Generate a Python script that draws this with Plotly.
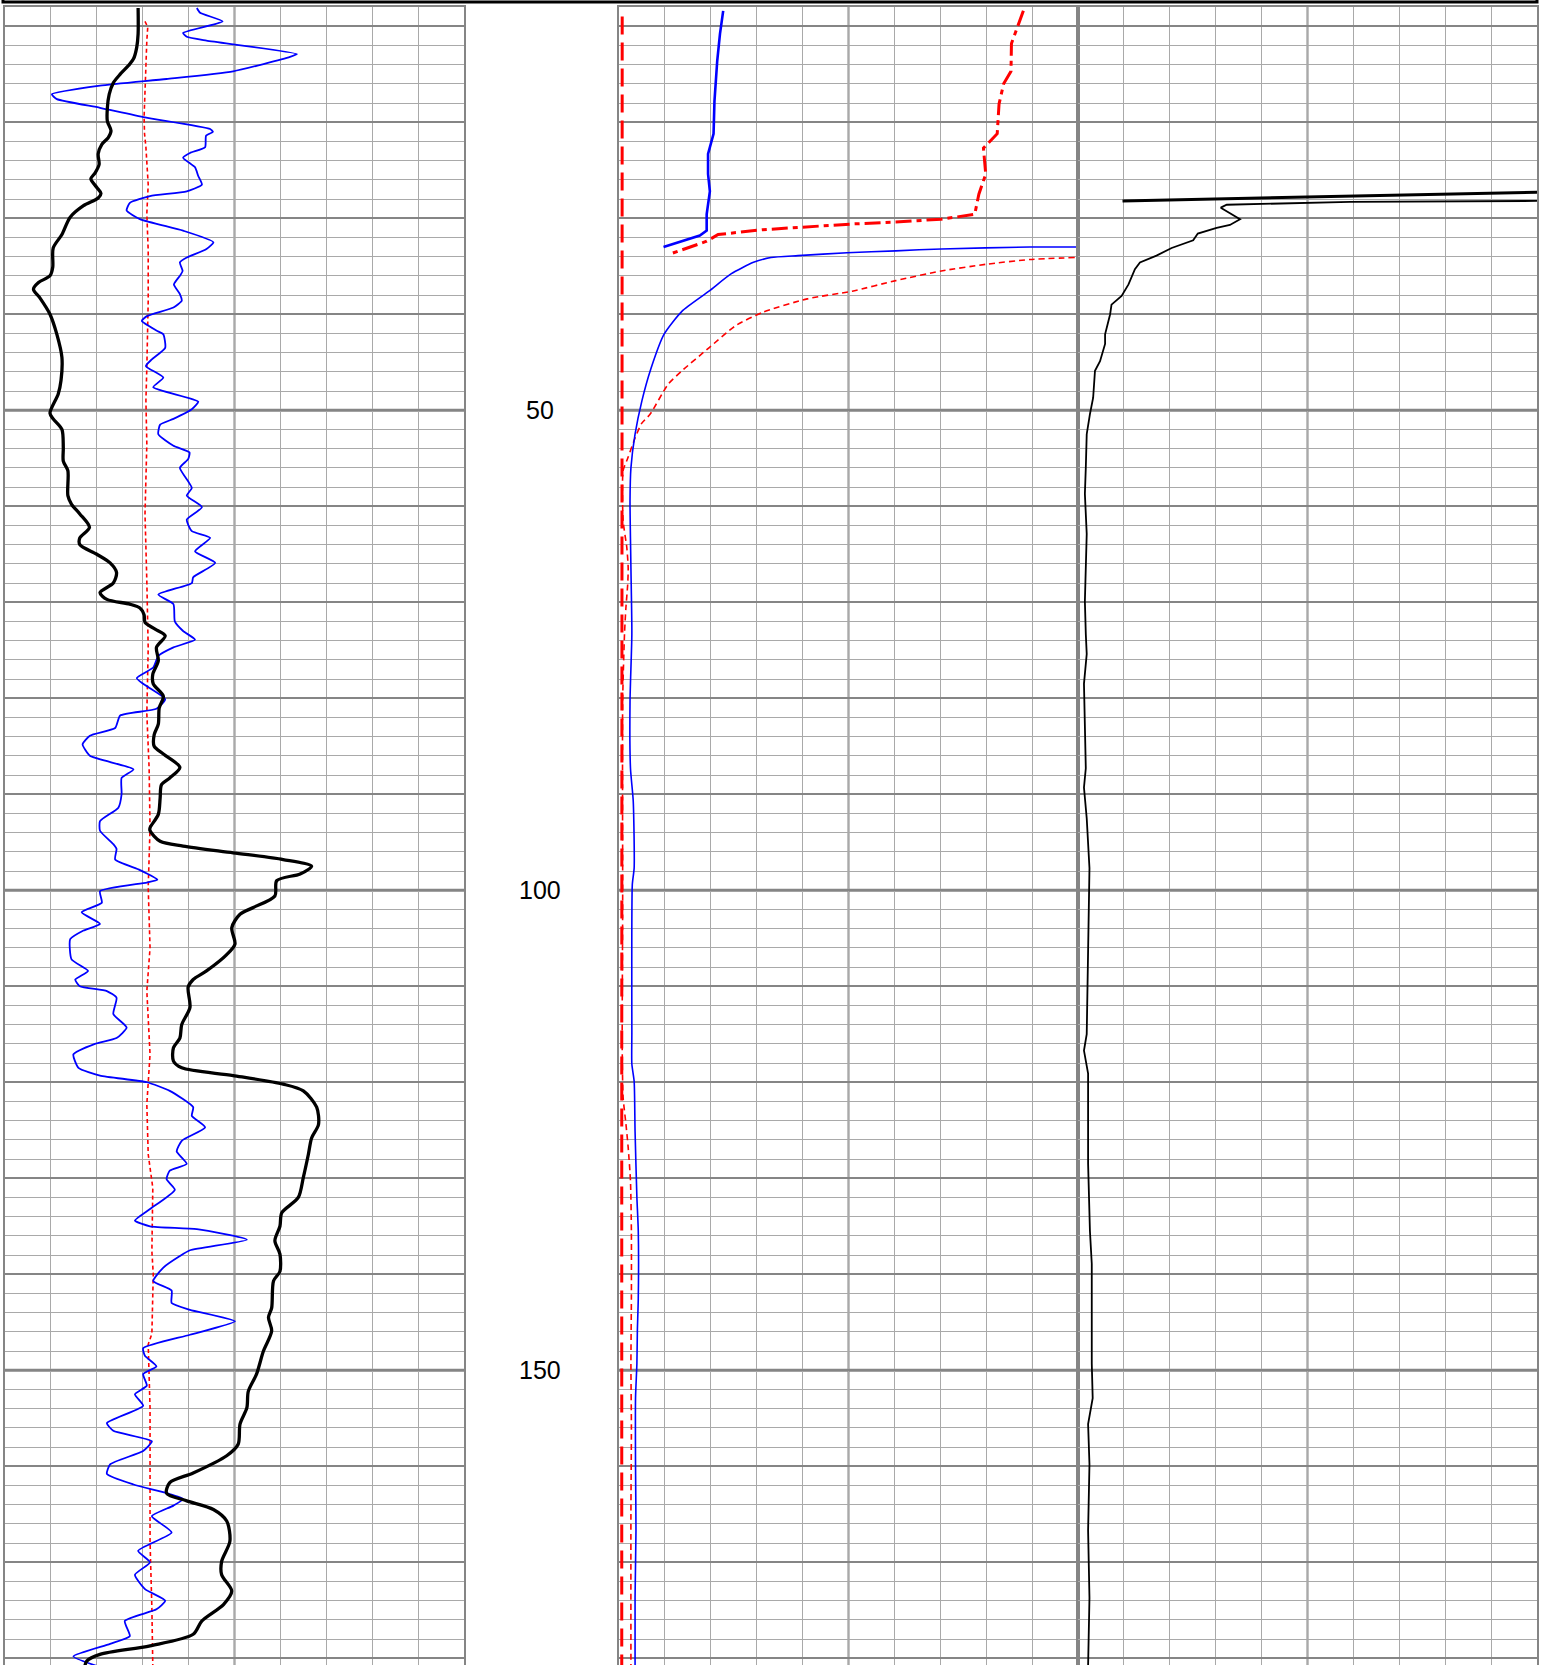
import plotly.graph_objects as go

# ---------------- data (depth, value 0-100 per track) ----------------
T1_BLACK_DEPTH = [8.1, 10.8, 12.2, 13.4, 14.1, 15.0, 15.9, 17.1, 18.5, 19.9, 20.9, 21.6, 22.3, 23.3, 24.4, 25.3, 25.9, 26.8, 27.4, 27.9,
                  28.7, 29.9, 31.7, 33.1, 35.1, 36.0, 36.7, 37.4, 38.3, 40.0, 42.1, 44.5, 46.9, 48.3, 50.3, 50.9, 52.0, 53.9, 55.3, 56.3,
                  58.9, 59.8, 60.8, 62.2, 63.3, 64.0, 65.0, 65.9, 66.9, 68.0, 69.0, 69.7, 70.2, 70.6, 71.3, 72.1, 72.8, 73.5, 74.7, 76.1,
                  77.5, 78.5, 79.8, 81.0, 82.7, 83.8, 85.0, 85.8, 87.2, 88.3, 89.0, 90.4, 92.1, 93.5, 93.8, 94.9, 95.4, 96.1, 96.8, 97.5,
                  98.3, 99.0, 100.6, 101.8, 102.5, 103.9, 105.6, 106.7, 108.4, 109.3, 110.1, 112.2, 114.0, 115.4, 116.4, 117.8, 118.5, 119.3, 120.2, 120.9,
                  122.6, 124.4, 125.8, 127.5, 129.9, 132.0, 133.6, 135.0, 136.5, 137.9, 139.7, 140.7, 143.5, 144.5, 145.9, 148.0, 150.4, 152.2, 153.9, 155.6,
                  157.7, 158.9, 160.7, 161.7, 162.8, 163.6, 164.5, 165.7, 167.8, 169.9, 171.3, 173.0, 174.4, 176.1, 177.5, 178.7, 179.6, 180.3, 180.8]
T1_BLACK_VAL = [29.0, 29.0, 28.7, 28.0, 26.9, 25.1, 23.6, 22.7, 22.3, 22.3, 23.1, 22.5, 21.1, 20.3, 20.5, 19.6, 18.7, 20.0, 20.9, 20.3,
                17.1, 14.2, 12.4, 10.5, 10.4, 9.8, 7.3, 6.2, 7.6, 9.8, 11.3, 12.4, 12.2, 11.6, 9.8, 10.5, 12.4, 12.7, 12.7, 13.7,
                13.7, 14.5, 16.3, 18.4, 16.3, 16.3, 20.0, 22.9, 24.3, 23.6, 20.7, 22.2, 27.2, 29.4, 30.3, 30.5, 32.7, 34.9, 33.0, 33.4,
                32.2, 32.3, 34.5, 33.6, 33.4, 32.5, 32.5, 34.5, 38.1, 35.9, 34.1, 33.8, 33.4, 31.6, 31.6, 33.8, 38.8, 49.7, 60.6, 66.8,
                64.3, 59.2, 58.8, 54.1, 51.2, 49.4, 50.1, 48.3, 43.9, 41.0, 39.9, 40.3, 38.5, 38.1, 36.7, 36.7, 38.5, 49.7, 60.6, 65.0,
                67.9, 68.3, 66.8, 66.1, 65.0, 63.9, 60.3, 59.9, 58.8, 59.9, 59.9, 58.5, 58.1, 57.4, 58.1, 56.3, 54.8, 53.0, 52.7, 51.2,
                50.8, 48.3, 41.0, 35.9, 35.2, 39.6, 45.4, 48.3, 49.0, 47.2, 47.2, 49.4, 47.6, 42.9, 41.0, 31.6, 20.7, 17.8, 17.4]

T1_BLUE_DEPTH = [8.1, 8.6, 9.5, 10.7, 11.1, 11.5, 12.9, 13.2, 14.7, 15.5, 16.2, 17.1, 17.6, 18.5, 19.5, 20.7, 21.0, 21.4, 22.6, 23.2,
                 23.7, 24.7, 25.6, 26.5, 27.2, 27.7, 28.4, 29.2, 30.1, 31.3, 32.5, 33.2, 34.1, 34.6, 35.5, 36.0, 36.9, 37.9, 38.6, 39.3,
                 40.2, 40.7, 41.7, 42.1, 43.5, 44.7, 45.4, 46.6, 47.6, 49.1, 49.9, 50.9, 51.5, 52.5, 53.7, 54.4, 55.1, 56.0, 57.4, 58.1,
                 58.9, 60.1, 61.4, 62.6, 63.3, 64.7, 65.9, 67.4, 68.0, 69.2, 70.2, 72.0, 73.0, 73.9, 74.7, 75.6, 76.8, 77.9, 78.5, 80.1,
                 81.1, 81.8, 83.1, 83.9, 84.8, 86.0, 87.4, 88.3, 90.0, 91.4, 92.8, 93.8, 95.2, 95.7, 96.8, 97.9, 98.9, 99.2, 100.1, 101.3,
                 102.3, 103.5, 104.2, 105.1, 107.2, 108.4, 109.3, 110.0, 110.5, 111.2, 112.9, 114.3, 115.4, 116.0, 117.1, 118.5, 119.3, 120.0, 120.9, 122.6,
                 123.5, 124.7, 126.1, 127.2, 128.5, 129.2, 130.1, 131.2, 133.2, 134.4, 135.0, 135.3, 136.4, 137.5, 138.1, 139.3, 140.7, 141.7, 143.0, 143.7,
                 144.9, 146.3, 147.7, 148.5, 149.6, 150.4, 151.6, 152.5, 153.7, 155.5, 156.3, 157.4, 158.4, 159.8, 160.8, 161.9, 162.8, 163.4, 164.1, 165.2,
                 166.9, 168.8, 170.0, 171.3, 172.8, 174.0, 174.9, 176.1, 177.7, 178.5, 179.8, 180.8]
T1_BLUE_VAL = [41.8, 42.5, 47.4, 38.8, 39.6, 43.9, 63.6, 62.1, 49.7, 35.2, 20.7, 10.2, 11.3, 20.7, 30.5, 44.7, 45.3, 43.8, 43.6, 40.3,
               38.8, 41.4, 42.1, 42.9, 39.6, 31.6, 27.2, 26.5, 29.4, 38.8, 45.4, 43.9, 39.6, 38.1, 38.7, 38.1, 36.8, 38.1, 38.5, 36.7,
               30.9, 29.8, 33.0, 34.5, 34.9, 32.0, 30.7, 34.5, 32.3, 42.1, 40.7, 36.7, 33.8, 33.4, 36.7, 40.2, 39.9, 38.1, 39.9, 40.7,
               39.6, 42.9, 39.6, 40.7, 44.7, 41.4, 45.8, 41.0, 40.7, 33.4, 36.7, 37.0, 38.8, 41.4, 36.7, 33.4, 32.3, 28.7, 30.1, 34.9,
               33.0, 25.1, 24.0, 18.5, 16.9, 18.5, 28.0, 25.4, 25.4, 24.7, 20.7, 20.7, 23.6, 24.3, 24.0, 29.4, 33.2, 30.9, 20.7, 21.1,
               16.7, 20.7, 17.1, 14.2, 14.5, 18.1, 15.3, 16.3, 22.2, 24.3, 23.6, 26.5, 24.3, 19.6, 14.9, 16.0, 20.7, 30.9, 35.9, 41.0,
               40.7, 43.6, 38.5, 37.4, 39.6, 35.9, 35.2, 37.0, 31.6, 28.3, 31.6, 41.8, 52.7, 40.3, 38.1, 34.5, 32.3, 36.3, 36.3, 40.3,
               50.1, 40.3, 30.1, 30.5, 33.0, 30.1, 30.9, 28.3, 30.1, 22.2, 23.6, 32.0, 30.1, 22.9, 22.2, 28.0, 35.2, 38.8, 36.7, 32.0,
               36.3, 29.0, 31.6, 28.3, 30.5, 34.9, 33.0, 26.1, 27.2, 22.9, 14.9, 20.0]

T1_RED_DEPTH = [9.5, 10.1, 11.5, 19.5, 21.2, 22.6, 26.5, 29.5, 33.4, 38.6, 45.6, 49.0, 53.5, 60.8, 67.8, 74.8, 81.6, 87.3,
                93.5, 99.7, 106.0, 110.5, 117.1, 122.3, 127.5, 131.0, 137.6, 140.0, 146.2, 147.3, 153.9, 160.8, 167.8, 174.8, 180.8]
T1_RED_VAL = [30.5, 31.1, 30.9, 30.3, 30.4, 30.7, 31.2, 30.9, 31.2, 31.2, 30.9, 30.7, 30.9, 30.5, 30.9, 31.2, 30.9, 31.4,
              31.6, 31.2, 31.6, 30.9, 31.6, 30.9, 31.2, 32.2, 32.0, 32.3, 32.0, 31.2, 31.6, 31.6, 31.6, 32.0, 32.2]

T2_REDBASE_DEPTH = [9.0, 60.0, 120.0, 180.8]
T2_REDBASE_VAL = [0.7, 0.6, 0.6, 0.6]

T2_REDDD_DEPTH = [8.4, 11.8, 14.7, 16.0, 18.1, 21.2, 22.7, 25.4, 27.5, 29.6, 30.1, 30.4, 30.6, 30.9, 31.2, 31.7, 32.4, 33.7]
T2_REDDD_VAL = [88.1, 85.5, 85.4, 83.8, 82.8, 82.4, 79.4, 79.9, 78.4, 77.5, 70.2, 60.3, 50.8, 41.0, 31.3, 21.6, 19.1, 11.3]

T2_BLUEK_DEPTH = [8.4, 10.8, 13.6, 17.8, 21.2, 23.3, 25.4, 27.2, 29.6, 31.3, 31.8, 33.0]
T2_BLUEK_VAL = [22.7, 22.0, 21.4, 20.8, 20.6, 19.4, 19.4, 19.8, 19.1, 19.1, 17.6, 9.7]

T2_BLUE_DEPTH = [33.0, 33.0, 33.2, 33.4, 33.6, 33.9, 34.1, 34.6, 35.8, 37.6, 39.7, 42.1, 45.6, 49.0, 52.5, 56.0, 59.4, 66.4, 73.3,
                 80.3, 87.3, 90.7, 97.7, 99.4, 115.0, 118.1, 119.9, 125.1, 132.0, 135.5, 142.5, 145.9, 149.3, 152.9, 159.8, 166.7, 173.7, 180.8]
T2_BLUE_VAL = [100.0, 89.5, 70.2, 60.3, 49.7, 39.0, 33.1, 29.3, 24.4, 19.6, 13.7, 9.8, 7.0, 5.0, 3.5, 2.6, 2.4, 2.6, 2.8,
               2.4, 2.5, 3.1, 3.3, 2.9, 2.8, 2.8, 3.3, 3.5, 3.9, 4.2, 4.2, 4.0, 3.9, 3.6, 3.6, 3.7, 3.5, 3.5]

T2_REDTHIN_DEPTH = [34.1, 34.3, 34.8, 35.5, 36.5, 37.6, 38.4, 39.8, 41.2, 43.5, 45.9, 47.3, 50.4, 51.4, 52.9, 55.0, 56.3, 61.5,
                    64.3, 66.4, 68.1, 70.6, 73.3, 80.3, 101.1, 116.4, 121.6, 124.3, 126.8, 130.3, 135.5, 142.5, 149.3, 156.0, 165.0, 180.8]
T2_REDTHIN_VAL = [99.3, 89.5, 80.0, 70.2, 60.3, 50.8, 41.0, 31.3, 25.4, 19.6, 13.7, 10.7, 6.8, 4.9, 3.5, 1.9, 0.9, 0.9,
                  1.7, 2.0, 1.9, 1.5, 1.2, 0.8, 0.8, 0.7, 0.9, 1.5, 2.0, 2.5, 2.7, 2.7, 2.6, 2.7, 2.6, 2.6]

T3_TOP_DEPTH = [28.2, 27.3]
T3_TOP_VAL = [9.7, 100.0]

T3_BLACK_DEPTH = [28.2, 28.3, 28.6, 28.9, 30.1, 30.7, 31.0, 31.6, 32.3, 33.1, 33.9, 34.6, 35.3, 36.9, 38.1, 39.0, 40.0, 42.1, 43.1,
                  44.9, 45.9, 48.7, 50.4, 52.5, 56.0, 58.7, 62.9, 69.9, 73.3, 75.4, 78.5, 83.7, 87.3, 89.3, 92.5, 97.7, 104.6, 115.0,
                  116.7, 119.1, 128.5, 135.5, 138.9, 149.3, 152.9, 155.6, 159.8, 166.7, 173.7, 180.8]
T3_BLACK_VAL = [100.0, 59.3, 32.4, 31.1, 35.3, 33.1, 30.2, 26.1, 25.1, 20.4, 17.1, 13.5, 12.4, 11.0, 9.5, 7.3, 7.0, 5.9, 5.9,
                4.8, 3.7, 3.3, 2.6, 1.9, 1.7, 1.5, 1.9, 1.5, 1.7, 1.9, 1.3, 1.5, 1.7, 1.3, 1.9, 2.5, 2.2, 1.9,
                1.3, 2.2, 2.2, 2.6, 3.0, 3.0, 3.2, 2.2, 2.5, 2.2, 2.5, 2.2]

DEPTH_LABELS = [50, 100, 150]

# ---------------- figure ----------------
W, H = 1551, 1665
TOP = 7
Y_RANGE = [180.7, 8.0]
DOMAINS = [[5 / W, 464 / W], [619 / W, 1078 / W], [1078 / W, 1537 / W]]

MINOR_C = "#a9a9a9"
MAJOR_C = "#858585"

fig = go.Figure()


def add(xax, depth, val, color, width, dash="solid", shape="linear", smoothing=1.0):
    yax = "y" if xax == "x" else "y" + xax[1:]
    line = dict(color=color, width=width, dash=dash, shape=shape)
    if shape == "spline":
        line["smoothing"] = smoothing
    fig.add_trace(go.Scatter(x=val, y=depth, mode="lines", xaxis=xax, yaxis=yax,
                             line=line, showlegend=False, hoverinfo="skip"))


# track 1
add("x", T1_RED_DEPTH, T1_RED_VAL, "#ff0000", 1.6, "4px,3px")
add("x", T1_BLUE_DEPTH, T1_BLUE_VAL, "#0000ff", 1.8, shape="spline", smoothing=0.5)
add("x", T1_BLACK_DEPTH, T1_BLACK_VAL, "#000000", 3.3, shape="spline", smoothing=0.8)
# track 2
add("x2", T2_REDBASE_DEPTH, T2_REDBASE_VAL, "#ff0000", 3, "18px,8px")
add("x2", T2_REDTHIN_DEPTH, T2_REDTHIN_VAL, "#ff0000", 1.6, "6px,4px", shape="spline", smoothing=0.6)
add("x2", T2_BLUE_DEPTH, T2_BLUE_VAL, "#0000ff", 1.6, shape="spline", smoothing=0.6)
add("x2", T2_REDDD_DEPTH, T2_REDDD_VAL, "#ff0000", 3, "16px,5px,5px,5px")
add("x2", T2_BLUEK_DEPTH, T2_BLUEK_VAL, "#0000ff", 2.6)
# track 3
add("x3", T3_TOP_DEPTH, T3_TOP_VAL, "#000000", 3)
add("x3", T3_BLACK_DEPTH, T3_BLACK_VAL, "#000000", 1.8)

layout = dict(width=W, height=H, margin=dict(l=0, r=0, t=TOP, b=0),
              paper_bgcolor="white", plot_bgcolor="white", showlegend=False)
for i, dom in enumerate(DOMAINS):
    sx = "" if i == 0 else str(i + 1)
    layout["xaxis" + sx] = dict(domain=dom, range=[0, 100], anchor="y" + sx, showticklabels=False, ticks="",
                                showgrid=True, dtick=10, tick0=0, gridcolor=MINOR_C, gridwidth=1,
                                zeroline=False, showline=True, linecolor=MAJOR_C, linewidth=2, mirror=True,
                                fixedrange=True)
    layout["yaxis" + sx] = dict(domain=[0, 1], range=Y_RANGE, anchor="x" + sx, showticklabels=False, ticks="",
                                showgrid=True, dtick=10, tick0=0, gridcolor=MAJOR_C, gridwidth=2,
                                minor=dict(dtick=2, tick0=0, showgrid=True, gridcolor=MINOR_C, gridwidth=1),
                                zeroline=False, showline=True, linecolor=MAJOR_C, linewidth=2, mirror=True,
                                fixedrange=True)
    if i > 0:
        layout["yaxis" + sx]["matches"] = "y"
fig.update_layout(**layout)

shapes = []
for i in range(3):
    sx = "" if i == 0 else str(i + 1)
    for d in DEPTH_LABELS:
        shapes.append(dict(type="line", xref="x" + sx, yref="y" + sx, x0=0, x1=100, y0=d, y1=d,
                           line=dict(color=MAJOR_C, width=3), layer="below"))
    shapes.append(dict(type="line", xref="x" + sx, yref="paper", x0=50, x1=50, y0=0, y1=1,
                       line=dict(color=MAJOR_C, width=2), layer="below"))
shapes.append(dict(type="rect", xref="paper", yref="paper", x0=3 / W, x1=1537 / W,
                   y0=(H - 2) / (H - TOP), y1=1.05, line=dict(color="black", width=3)))
fig.update_layout(shapes=shapes)

for d in DEPTH_LABELS:
    fig.add_annotation(x=540 / W, xref="paper", y=d, yref="y", text=str(d), showarrow=False,
                       xanchor="center", yanchor="middle",
                       font=dict(family="Liberation Sans, Arial, sans-serif", size=25, color="black"))

fig.write_html("out.html", config={"displayModeBar": False},
               post_script="document.body.style.margin='0';document.body.style.overflow='hidden';")
